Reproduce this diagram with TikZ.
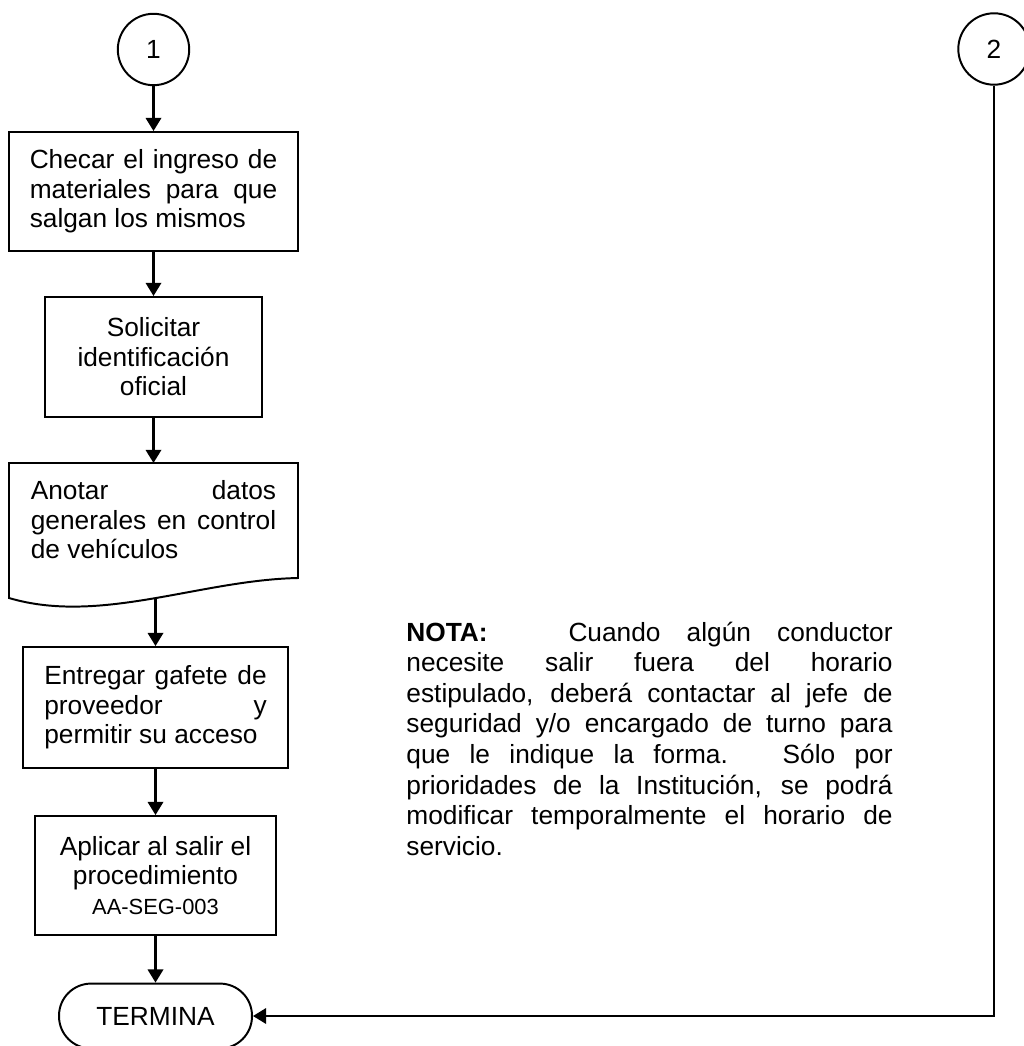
\documentclass[tikz,border=0pt]{standalone}
\usepackage{fontspec}
\setmainfont{Liberation Sans}
\usetikzlibrary{graphs}
\usetikzlibrary{arrows.meta}
\tikzstyle{box} = [draw, line width=0.9pt, inner sep=0pt, font=\fontsize{12}{13.5}\selectfont]
\tikzstyle{process} = [box, align=justify]
\tikzstyle{centerbox} = [box, align=center]
\tikzstyle{connector} = [box, circle, minimum size=32.6pt]
\tikzstyle{terminal} = [box, rounded corners=14.6pt, minimum width=88.1pt, minimum height=29.6pt]
\tikzstyle{note} = [inner sep=0pt, text width=222pt, align=justify, font=\fontsize{12}{14}\selectfont]
\tikzstyle{wire} = [line width=1.1pt]

\begin{document}
\begin{tikzpicture}[x=0.4566pt, y=-0.4566pt, >={Triangle[length=6pt, width=7pt]}]
        \useasboundingbox (0,0) rectangle (1023,1046);
        
        \node[connector](11) at (153.5,49.5){1};
        \node[process, minimum width=132pt, minimum height=54.3pt, text width=113pt](21) at (153.5,191.5){Checar el ingreso de\linebreak materiales para que\linebreak salgan los mismos};
        \node[centerbox, minimum width=99.1pt, minimum height=54.8pt](31) at (153.5,357){Solicitar \\ identificación \\ oficial};
        \node[process, draw=none, text width=112pt](41) at (153.5,520){Anotar datos\linebreak generales en control\linebreak de vehículos};
        \draw[line width=0.9pt] (9,463) -- (298,463) -- (298,578) .. controls (200,580) and (100,625) .. (9,598) -- cycle;
        \coordinate (41a) at (153.5,463);
        \coordinate (41b) at (155.5,598.5);
        \node[process, minimum width=121pt, minimum height=55.2pt, text width=101.5pt](51) at (155.5,707.5){Entregar gafete de\linebreak proveedor y\linebreak permitir su acceso};
        \node[centerbox, minimum width=109.6pt, minimum height=54.3pt](61) at (155.5,875.5){Aplicar al salir el \\ procedimiento \\ {\fontsize{10}{12}\selectfont AA-SEG-003}};
        \node[terminal](71) at (155.5,1016){TERMINA};
        
        \node[connector](17) at (994,49){2};
        \node[note, anchor=base west](54) at (406,641){\makebox[74pt][l]{\textbf{NOTA:}}Cuando algún conductor\linebreak necesite salir fuera del horario\linebreak estipulado, deberá contactar al jefe de\linebreak seguridad y/o encargado de turno para\linebreak que le indique la forma.\hspace{4pt} Sólo por\linebreak prioridades de la Institución, se podrá\linebreak modificar temporalmente el horario de\linebreak servicio.};
        
        \graph {
            (11) ->[wire] (21);
            (21) ->[wire] (31);
            (31) ->[wire] (41a);
            (41b) ->[wire] (51);
            (51) ->[wire] (61);
            (61) ->[wire] (71);
            (17) ->[to path={|- (\tikztotarget)}, wire] (71);
        };
    \end{tikzpicture}
\end{document}
